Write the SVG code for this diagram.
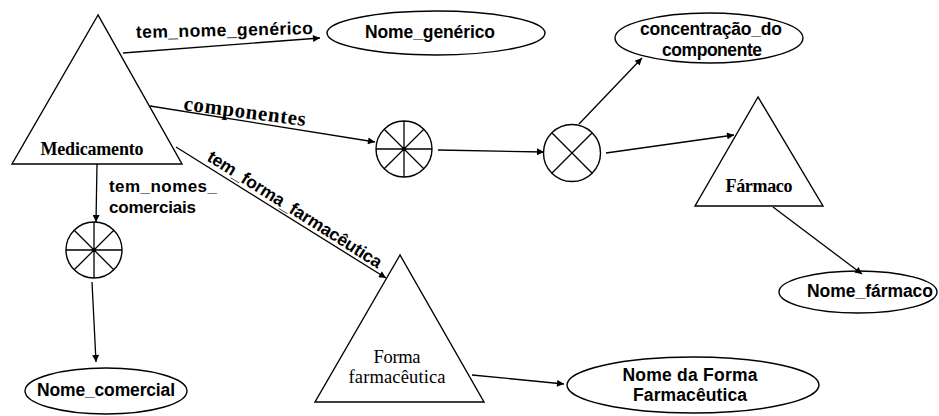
<svg xmlns="http://www.w3.org/2000/svg" width="939" height="416" viewBox="0 0 939 416">
  <style>
    .shape { fill: none; stroke: #000; stroke-width: 1.4; }
    .edge { fill: none; stroke: #000; stroke-width: 1.3; }
    .sans { font-family: "Liberation Sans", Arial, sans-serif; font-weight: bold; font-size: 17.5px; fill: #000; }
    .serif { font-family: "Liberation Serif", "Times New Roman", serif; font-size: 18.5px; fill: #000; }
    .serifb { font-family: "Liberation Serif", "Times New Roman", serif; font-weight: bold; font-size: 18px; fill: #000; }
  </style>
  <defs>
    <marker id="arrow" viewBox="0 0 10 10" refX="10" refY="5" markerWidth="9" markerHeight="7" markerUnits="userSpaceOnUse" orient="auto">
      <path d="M0,0 L10,5 L0,10 z" fill="#000"/>
    </marker>
  </defs>
  <rect width="939" height="416" fill="#fff"/>

  <!-- connectors -->
  <g id="connectors">
    <line class="edge" x1="123" y1="53" x2="320" y2="38" marker-end="url(#arrow)"/>
    <line class="edge" x1="150" y1="106" x2="375" y2="142" marker-end="url(#arrow)"/>
    <line class="edge" x1="176" y1="147" x2="386" y2="278" marker-end="url(#arrow)"/>
    <line class="edge" x1="97" y1="164" x2="96" y2="222" marker-end="url(#arrow)"/>
    <line class="edge" x1="92" y1="282" x2="96" y2="362" marker-end="url(#arrow)"/>
    <line class="edge" x1="438" y1="150" x2="544" y2="152" marker-end="url(#arrow)"/>
    <line class="edge" x1="579" y1="124" x2="642" y2="58" marker-end="url(#arrow)"/>
    <line class="edge" x1="606" y1="153" x2="734" y2="135" marker-end="url(#arrow)"/>
    <line class="edge" x1="773" y1="207" x2="862" y2="274" marker-end="url(#arrow)"/>
    <line class="edge" x1="472" y1="375" x2="564" y2="384" marker-end="url(#arrow)"/>

    <text class="sans" transform="translate(136,38) rotate(-1.3)" textLength="177">tem_nome_genérico</text>
    <text class="serifb" style="font-size:21px" transform="translate(183,110) rotate(7.5)" textLength="123">componentes</text>
    <text class="sans" transform="translate(206,160) rotate(32.4)" textLength="203">tem_forma_farmacêutica</text>
    <text class="sans" style="font-size:17px" x="109" y="192" textLength="108">tem_nomes_</text>
    <text class="sans" style="font-size:17px" x="109" y="213" textLength="87">comerciais</text>
  </g>

  <!-- entity triangles -->
  <g id="medicamento">
    <polygon class="shape" points="98,15 12,164 182,164"/>
    <text class="serifb" x="92" y="155" text-anchor="middle" textLength="103">Medicamento</text>
  </g>
  <g id="farmaco">
    <polygon class="shape" points="758,97 695,206 823,206"/>
    <text class="serifb" x="759" y="192" text-anchor="middle" textLength="67">Fármaco</text>
  </g>
  <g id="forma-farmaceutica">
    <polygon class="shape" points="400,255 315,402 484,402"/>
    <text class="serif" x="397" y="363" text-anchor="middle" textLength="47">Forma</text>
    <text class="serif" x="397" y="383" text-anchor="middle" textLength="97">farmacêutica</text>
  </g>

  <!-- attribute ellipses -->
  <g id="nome-generico">
    <ellipse class="shape" cx="436" cy="33" rx="109" ry="22"/>
    <text class="sans" x="430" y="38" text-anchor="middle" textLength="130">Nome_genérico</text>
  </g>
  <g id="concentracao">
    <ellipse class="shape" cx="709" cy="38" rx="94" ry="25"/>
    <text class="sans" x="711" y="35" text-anchor="middle" textLength="142">concentração_do</text>
    <text class="sans" x="712" y="56" text-anchor="middle" textLength="100">componente</text>
  </g>
  <g id="nome-farmaco">
    <ellipse class="shape" cx="858" cy="292" rx="79" ry="21"/>
    <text class="sans" x="870" y="297" text-anchor="middle" textLength="126">Nome_fármaco</text>
  </g>
  <g id="nome-comercial">
    <ellipse class="shape" cx="106" cy="391" rx="81" ry="23"/>
    <text class="sans" x="106" y="396" text-anchor="middle" textLength="138">Nome_comercial</text>
  </g>
  <g id="nome-forma">
    <ellipse class="shape" cx="693" cy="385" rx="126" ry="28"/>
    <text class="sans" x="690" y="381" text-anchor="middle" textLength="135">Nome da Forma</text>
    <text class="sans" x="690" y="401" text-anchor="middle" textLength="114">Farmacêutica</text>
  </g>

  <!-- set constructor (8 spokes) -->
  <g id="conjunto-componentes">
    <circle class="shape" cx="404" cy="149" r="28"/>
    <path class="edge" d="M376,149 H432 M404,121 V177 M384.2,129.2 L423.8,168.8 M423.8,129.2 L384.2,168.8"/>
    <circle cx="404" cy="149" r="2.2" fill="#000"/>
  </g>
  <!-- aggregation (cross) -->
  <g id="agregacao-componente">
    <circle class="shape" cx="572" cy="153" r="28.5"/>
    <path class="edge" d="M551.8,132.8 L592.2,173.2 M592.2,132.8 L551.8,173.2"/>
  </g>
  <!-- set constructor (8 spokes) -->
  <g id="conjunto-nomes">
    <circle class="shape" cx="94" cy="250" r="28"/>
    <path class="edge" d="M66,250 H122 M94,222 V278 M74.2,230.2 L113.8,269.8 M113.8,230.2 L74.2,269.8"/>
    <circle cx="94" cy="250" r="2.2" fill="#000"/>
  </g>
</svg>
